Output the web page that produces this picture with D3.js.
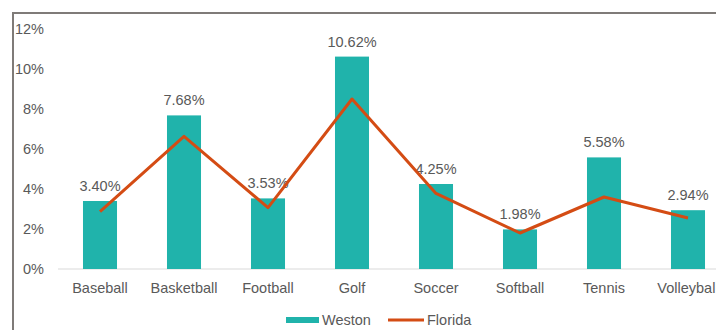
<!DOCTYPE html>
<html>
<head>
<meta charset="utf-8">
<script src="https://cdn.jsdelivr.net/npm/d3@7/dist/d3.min.js"></script>
<style>
  html, body { margin: 0; padding: 0; background: #ffffff; }
  svg { display: block; font-family: "Liberation Sans", Arial, sans-serif; }
</style>
</head>
<body>
<svg id="chart" width="716" height="330"></svg>
<script>
// Share of participants by sport, Weston vs. Florida (percent)
const sports = ["Baseball", "Basketball", "Football", "Golf", "Soccer", "Softball", "Tennis", "Volleyball"];
const weston = [3.40, 7.68, 3.53, 10.62, 4.25, 1.98, 5.58, 2.94];
const florida = [2.87, 6.63, 3.07, 8.5, 3.78, 1.8, 3.6, 2.55];
const yTicks = [0, 2, 4, 6, 8, 10, 12];

const barColor = "#20b3ab";
const lineColor = "#d44c14";
const textColor = "#595959";

const svg = d3.select("#chart");

// outer frame
svg.append("rect")
  .attr("x", 13).attr("y", 13)
  .attr("width", 720).attr("height", 340)
  .attr("fill", "#ffffff")
  .attr("stroke", "#7f7b78")
  .attr("stroke-width", 2);

const x = d3.scaleBand()
  .domain(sports)
  .range([58, 730])
  .paddingInner(0.595)
  .paddingOuter(0.2975);

const y = d3.scaleLinear().domain([0, 12]).range([269, 29]);

// y tick labels
svg.append("g").selectAll("text")
  .data(yTicks)
  .join("text")
  .attr("x", 44)
  .attr("y", d => y(d) + 5)
  .attr("text-anchor", "end")
  .attr("font-size", 14.5)
  .attr("fill", textColor)
  .text(d => d + "%");

// baseline
svg.append("line")
  .attr("x1", 58).attr("x2", 730)
  .attr("y1", y(0)).attr("y2", y(0))
  .attr("stroke", "#d9d9d9")
  .attr("stroke-width", 1);

// bars
svg.append("g").selectAll("rect")
  .data(sports)
  .join("rect")
  .attr("x", d => x(d))
  .attr("y", (d, i) => y(weston[i]))
  .attr("width", x.bandwidth())
  .attr("height", (d, i) => y(0) - y(weston[i]))
  .attr("fill", barColor);

// bar value labels
svg.append("g").selectAll("text")
  .data(sports)
  .join("text")
  .attr("x", d => x(d) + x.bandwidth() / 2)
  .attr("y", (d, i) => y(weston[i]) - 10)
  .attr("text-anchor", "middle")
  .attr("font-size", 14.5)
  .attr("fill", textColor)
  .text((d, i) => weston[i].toFixed(2) + "%");

// Florida line
const line = d3.line()
  .x((d, i) => x(sports[i]) + x.bandwidth() / 2)
  .y(d => y(d));

svg.append("path")
  .datum(florida)
  .attr("d", line)
  .attr("fill", "none")
  .attr("stroke", lineColor)
  .attr("stroke-width", 3)
  .attr("stroke-linejoin", "round");

// category labels
svg.append("g").selectAll("text")
  .data(sports)
  .join("text")
  .attr("x", d => x(d) + x.bandwidth() / 2)
  .attr("y", 293)
  .attr("text-anchor", "middle")
  .attr("font-size", 14.5)
  .attr("fill", textColor)
  .text(d => d);

// legend
const legend = svg.append("g");
legend.append("rect")
  .attr("x", 286).attr("y", 317)
  .attr("width", 33).attr("height", 6)
  .attr("fill", barColor);
legend.append("text")
  .attr("x", 322).attr("y", 325)
  .attr("font-size", 14.5)
  .attr("fill", textColor)
  .text("Weston");
legend.append("line")
  .attr("x1", 388).attr("x2", 424)
  .attr("y1", 320).attr("y2", 320)
  .attr("stroke", lineColor)
  .attr("stroke-width", 3);
legend.append("text")
  .attr("x", 427).attr("y", 325)
  .attr("font-size", 14.5)
  .attr("fill", textColor)
  .text("Florida");
</script>
</body>
</html>
